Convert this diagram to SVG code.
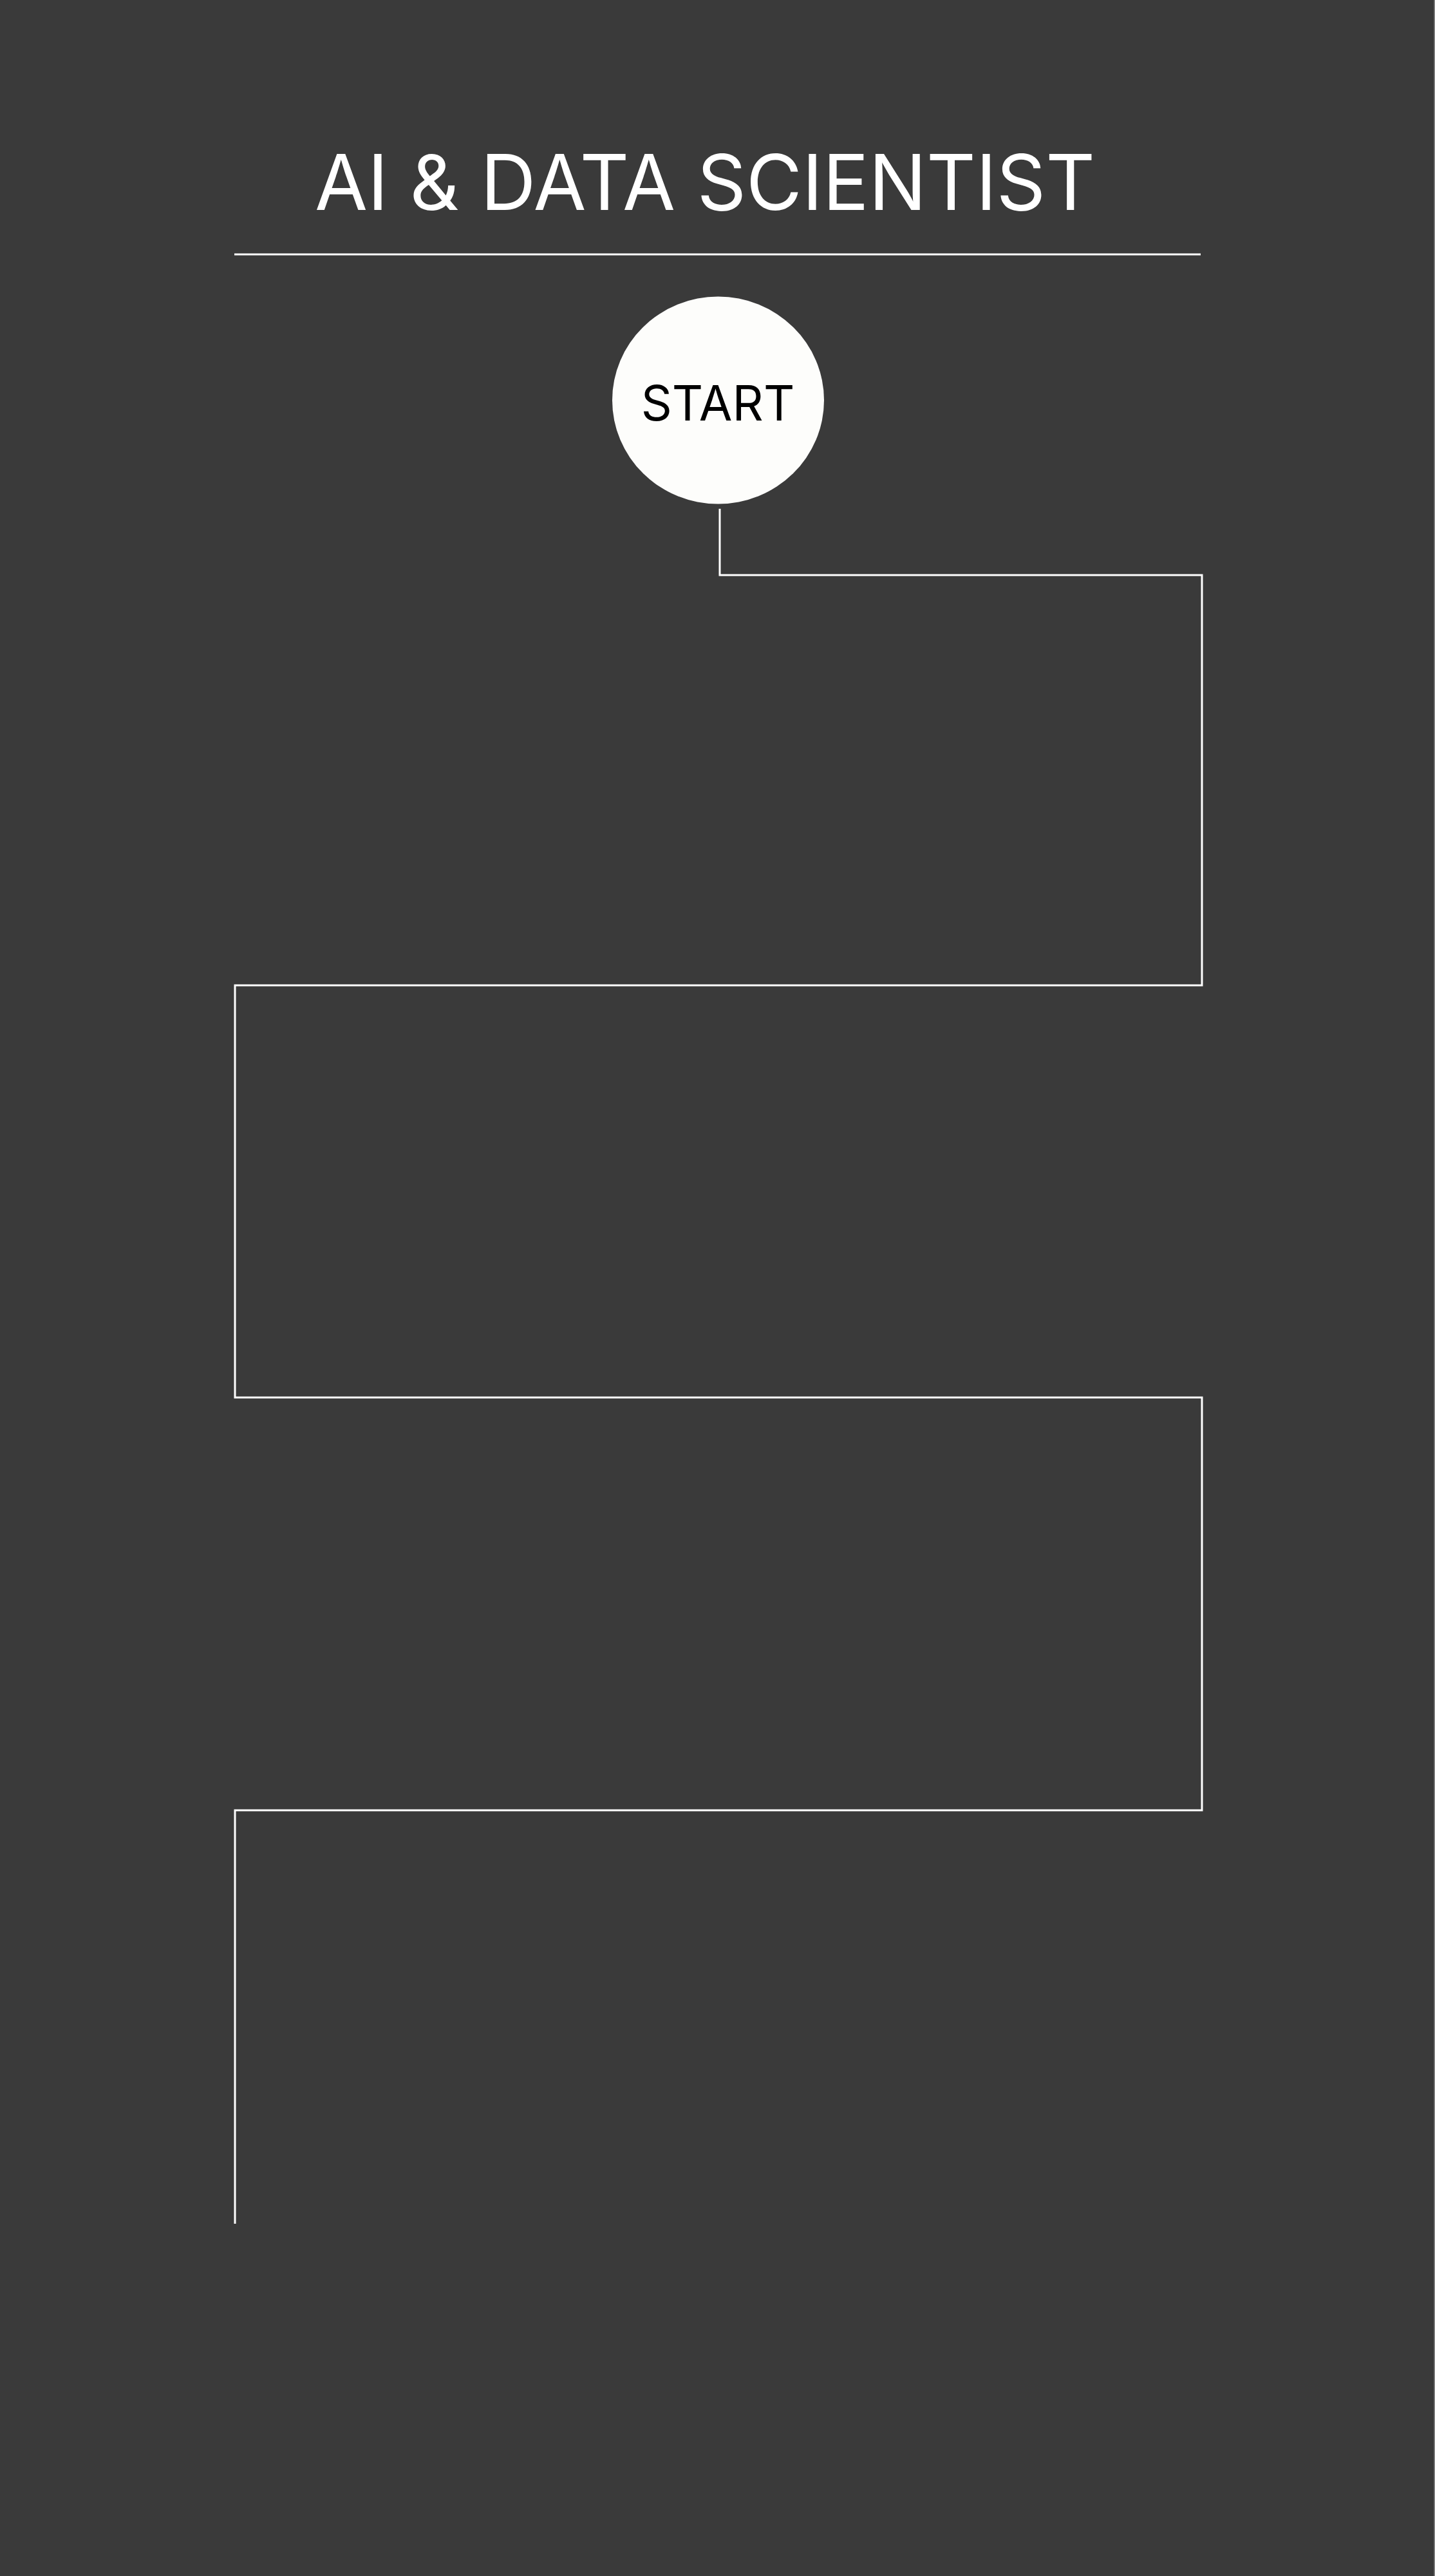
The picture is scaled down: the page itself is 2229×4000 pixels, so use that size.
<svg xmlns="http://www.w3.org/2000/svg" width="2229" height="4000" viewBox="0 0 2229 4000">
<style>
.bg{fill:#3a3a3a}
.title{font-family:Inter,"Liberation Sans",sans-serif;font-size:119px;fill:#ffffff;text-anchor:middle}
.lbl{font-family:Inter,"Liberation Sans",sans-serif;font-size:75px;fill:#000000;text-anchor:middle}
.conn{fill:none;stroke:#ffffff;stroke-width:3;stroke-linecap:butt;stroke-linejoin:miter}
</style>
<rect class="bg" x="0" y="0" width="2229" height="4000"/>
<rect x="2227.5" y="0" width="1.5" height="4000" fill="#8a8a8a"/>
<g id="title">
<text class="title" x="1095" y="326">AI &amp; DATA SCIENTIST</text>
<line x1="364" y1="395" x2="1865" y2="395" stroke="#ffffff" stroke-width="3"/>
</g>
<g id="start">
<ellipse cx="1115.5" cy="621.5" rx="164.5" ry="161" fill="#fdfdfb"/>
<text class="lbl" x="1115" y="653">START</text>
</g>
<g id="connectors">
<path class="conn" d="M1118 790 V893 H1867 V1530 H365 V2170 H1867 V2811 H365 V3453"/>
</g>
</svg>
